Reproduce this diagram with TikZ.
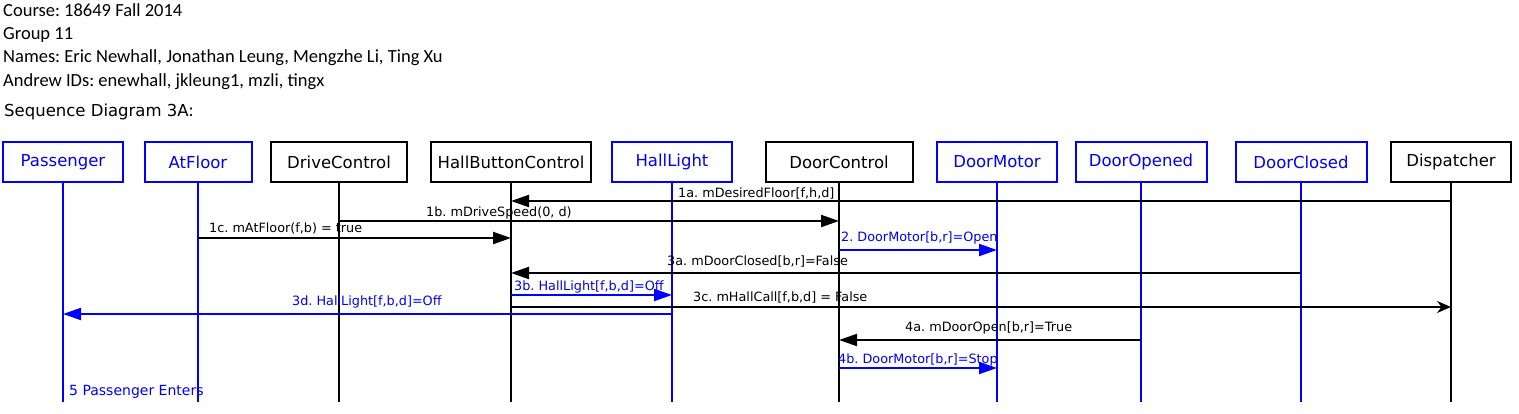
\documentclass[tikz,border=0pt]{standalone}
\usepackage{fontspec}
\setmainfont{DejaVu Sans}
\newfontfamily\hdrfont{Carlito}
\usetikzlibrary{arrows.meta,positioning}
\frenchspacing

\begin{document}
\begin{tikzpicture}[x=1pt,y=-1pt, every node/.style={inner sep=0pt,font=\fontsize{12.8}{15}\selectfont},
  hdr/.style={anchor=base west,font=\hdrfont\fontsize{18.5}{22}\selectfont},
  obj/.style={draw,line width=2pt,minimum height=40pt,font=\fontsize{16.5}{19}\selectfont},
  bobj/.style={obj,draw=blue,text=blue},
  life/.style={line width=2pt},
  msg/.style={line width=2pt,-{Triangle[length=18pt,width=12pt]}},
  lbl/.style={anchor=base west}]
\useasboundingbox[fill=white] (0,0) rectangle (1519,413);
% header
\node[hdr] (course) at (3,16.7) {Course: 18649 Fall 2014};
\node[hdr] (group) at (3,39.3) {Group 11};
\node[hdr] (names) at (3,62.7) {Names: Eric Newhall, Jonathan Leung, Mengzhe Li, Ting Xu};
\node[hdr] (ids) at (3,86) {Andrew IDs: enewhall, jkleung1, mzli, tingx};
\node[hdr,font=\fontsize{16.5}{19}\selectfont] (title) at (4,116.7) {Sequence Diagram 3A:};
% objects
\node[bobj,minimum width=120pt] (pas) at (63,162) {Passenger};
\node[bobj,minimum width=107pt] (atf) at (198,162) {AtFloor};
\node[obj,minimum width=136pt] (drv) at (339,162) {DriveControl};
\node[obj,minimum width=160pt] (hbc) at (511,162) {HallButtonControl};
\node[bobj,minimum width=120pt] (hl) at (672,162) {HallLight};
\node[obj,minimum width=147pt] (dc) at (839,162) {DoorControl};
\node[bobj,minimum width=120pt] (dm) at (997,162) {DoorMotor};
\node[bobj,minimum width=131pt] (dop) at (1141,162) {DoorOpened};
\node[bobj,minimum width=131pt] (dcl) at (1301,162) {DoorClosed};
\node[obj,minimum width=120pt] (disp) at (1451,162) {Dispatcher};
% lifelines
\foreach \o in {pas,atf,hl,dm,dop,dcl} \draw[life,blue] (\o.south) -- ++(0,219);
\foreach \o in {drv,hbc,dc,disp} \draw[life] (\o.south) -- ++(0,219);
% messages
\draw[msg] (disp |- 0,201) -- (hbc |- 0,201);
\node[lbl] (m1a) at (678,197.7) {1a. mDesiredFloor[f,h,d]};
\draw[msg] (drv |- 0,221) -- (dc |- 0,221);
\node[lbl] (m1b) at (426,216.7) {1b. mDriveSpeed(0, d)};
\draw[msg] (atf |- 0,238) -- (hbc |- 0,238);
\node[lbl] (m1c) at (209,232.7) {1c. mAtFloor(f,b) = true};
\draw[msg,blue] (dc |- 0,250) -- (dm |- 0,250);
\node[lbl,text=blue] (m2) at (841,241.7) {2. DoorMotor[b,r]=Open};
\draw[msg] (dcl |- 0,273) -- (hbc |- 0,273);
\node[lbl] (m3a) at (667,265) {3a. mDoorClosed[b,r]=False};
\draw[msg,blue] (hbc |- 0,295) -- (hl |- 0,295);
\node[lbl,text=blue] (m3b) at (514,290.7) {3b. HallLight[f,b,d]=Off};
\draw[line width=2pt,-{Stealth[length=14pt,width=12pt]}] (hbc |- 0,307) -- (disp |- 0,307);
\node[lbl] (m3c) at (693,301.7) {3c. mHallCall[f,b,d] = False};
\draw[msg,blue] (hl |- 0,314) -- (pas |- 0,314);
\node[lbl,text=blue] (m3d) at (292,305.7) {3d. HallLight[f,b,d]=Off};
\draw[msg] (dop |- 0,340) -- (dc |- 0,340);
\node[lbl] (m4a) at (905,331.7) {4a. mDoorOpen[b,r]=True};
\draw[msg,blue] (dc |- 0,368) -- (dm |- 0,368);
\node[lbl,text=blue] (m4b) at (838,363.7) {4b. DoorMotor[b,r]=Stop};
\node[lbl,text=blue,font=\fontsize{14}{17}\selectfont] (m5) at (69,395.7) {5 Passenger Enters};
\end{tikzpicture}
\end{document}
